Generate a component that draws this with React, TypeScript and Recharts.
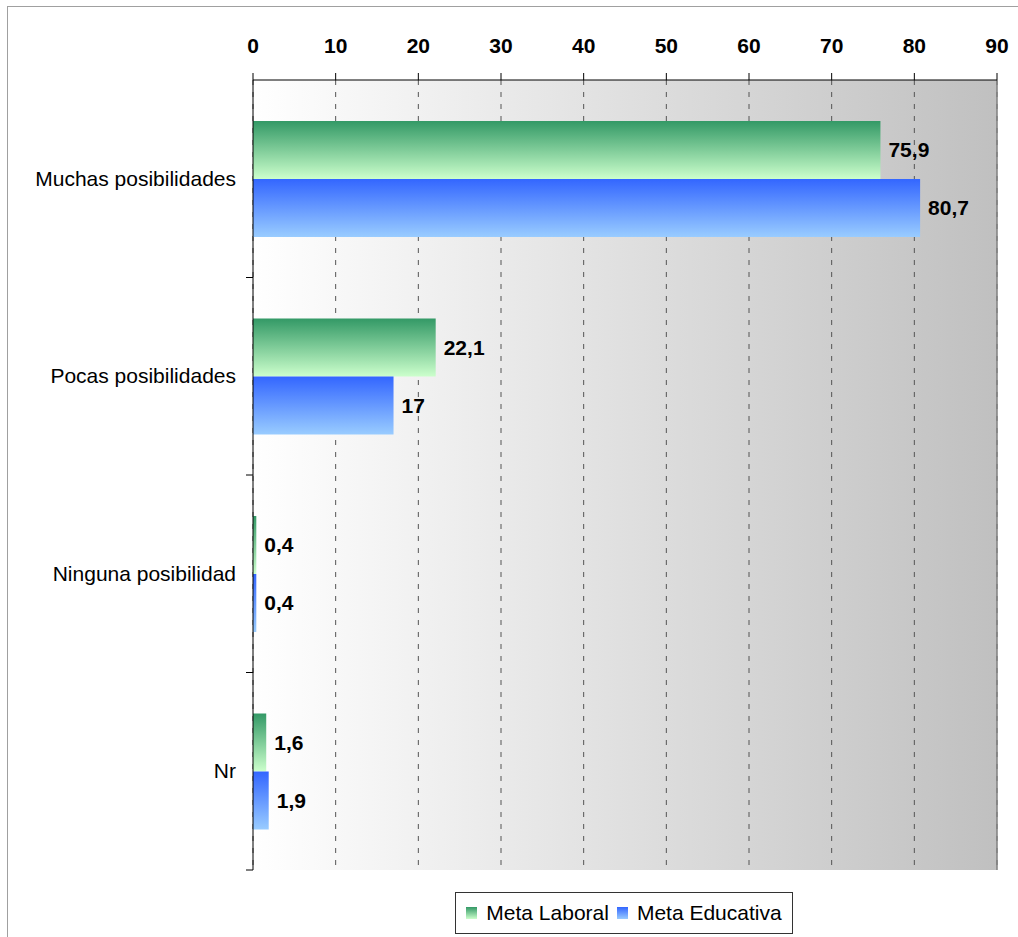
import React from 'react';
import {
  BarChart,
  Bar,
  XAxis,
  YAxis,
  CartesianGrid,
  LabelList,
  ReferenceLine,
} from 'recharts';

const categories = ['Muchas posibilidades', 'Pocas posibilidades', 'Ninguna posibilidad', 'Nr'];
const metaLaboral = [75.9, 22.1, 0.4, 1.6];
const metaEducativa = [80.7, 17, 0.4, 1.9];
const xTicks = [0, 10, 20, 30, 40, 50, 60, 70, 80, 90];

const data = categories.map((name, i) => ({
  name,
  laboral: metaLaboral[i],
  educativa: metaEducativa[i],
}));

const W = 1018;
const H = 937;
const FONT = '"Liberation Sans", Arial, sans-serif';
const FS = 21;
const YAXIS_W = 253;
const MARGIN = { top: 50, right: 21, bottom: 67, left: 0 };
const BAND = (H - MARGIN.top - 30 - MARGIN.bottom) / categories.length;

const fmt = (v: any) => String(v).replace('.', ',');

// category label plus the little tick at the lower edge of each band
const CatTick = ({ x, y, payload }: any) => (
  <g>
    <text x={x} y={y} dy={7} textAnchor="end" fontSize={FS} fontFamily={FONT} fill="#000">
      {payload.value}
    </text>
    <line x1={YAXIS_W - 7} x2={YAXIS_W} y1={y + BAND / 2} y2={y + BAND / 2} stroke="#000" />
  </g>
);

const LegendBox = () => (
  <div
    style={{
      position: 'absolute',
      left: 455,
      top: 892,
      width: 336,
      height: 40,
      border: '1px solid #333',
      background: '#fff',
      display: 'flex',
      alignItems: 'center',
      justifyContent: 'center',
      fontFamily: FONT,
      fontSize: FS,
      color: '#000',
    }}
  >
    <span style={{ width: 11, height: 12, background: 'linear-gradient(#339966, #ccffcc)', marginRight: 9 }} />
    <span style={{ marginRight: 8 }}>Meta Laboral</span>
    <span style={{ width: 11, height: 12, background: 'linear-gradient(#3366ff, #99ccff)', marginRight: 9 }} />
    <span>Meta Educativa</span>
  </div>
);

export default function App() {
  return (
    <div style={{ position: 'absolute', left: 0, top: 0, width: W, height: H, overflow: 'hidden', background: '#fff' }}>
      <div
        style={{
          position: 'absolute',
          left: 7,
          top: 6,
          width: W + 20,
          height: H + 20,
          border: '1px solid #a0a0a0',
        }}
      />
      <div style={{ position: 'absolute', left: 0, top: 0 }}>
        <BarChart
          width={W}
          height={H}
          data={data}
          layout="vertical"
          margin={MARGIN}
          barCategoryGap={41}
          barGap={0}
        >
          <defs>
            <linearGradient id="bgGrad" x1="0" y1="0" x2="1" y2="0">
              <stop offset="0%" stopColor="#ffffff" />
              <stop offset="100%" stopColor="#c0c0c0" />
            </linearGradient>
            <linearGradient id="greenGrad" x1="0" y1="0" x2="0" y2="1">
              <stop offset="0%" stopColor="#339966" />
              <stop offset="100%" stopColor="#ccffcc" />
            </linearGradient>
            <linearGradient id="blueGrad" x1="0" y1="0" x2="0" y2="1">
              <stop offset="0%" stopColor="#3366ff" />
              <stop offset="100%" stopColor="#99ccff" />
            </linearGradient>
          </defs>
          <CartesianGrid
            horizontal={false}
            stroke="#555"
            strokeDasharray="5 7"
            fill="url(#bgGrad)"
            fillOpacity={1}
          />
          <XAxis
            type="number"
            orientation="top"
            domain={[0, 90]}
            ticks={xTicks}
            height={30}
            tickSize={7}
            tickMargin={20}
            axisLine={{ stroke: '#000' }}
            tickLine={{ stroke: '#000' }}
            tick={{ fill: '#000', fontSize: FS, fontWeight: 'bold', fontFamily: FONT }}
          />
          <YAxis
            type="category"
            dataKey="name"
            width={YAXIS_W}
            tickSize={6}
            tickMargin={11}
            tickLine={false}
            axisLine={{ stroke: '#000' }}
            tick={<CatTick />}
          />
          <ReferenceLine x={90} stroke="#808080" strokeWidth={1.5} />
          <Bar dataKey="laboral" name="Meta Laboral" fill="url(#greenGrad)" isAnimationActive={false}>
            <LabelList
              dataKey="laboral"
              position="right"
              offset={8}
              formatter={fmt}
              fill="#000"
              fontSize={FS}
              fontWeight="bold"
              fontFamily={FONT}
            />
          </Bar>
          <Bar dataKey="educativa" name="Meta Educativa" fill="url(#blueGrad)" isAnimationActive={false}>
            <LabelList
              dataKey="educativa"
              position="right"
              offset={8}
              formatter={fmt}
              fill="#000"
              fontSize={FS}
              fontWeight="bold"
              fontFamily={FONT}
            />
          </Bar>
        </BarChart>
      </div>
      <LegendBox />
    </div>
  );
}
